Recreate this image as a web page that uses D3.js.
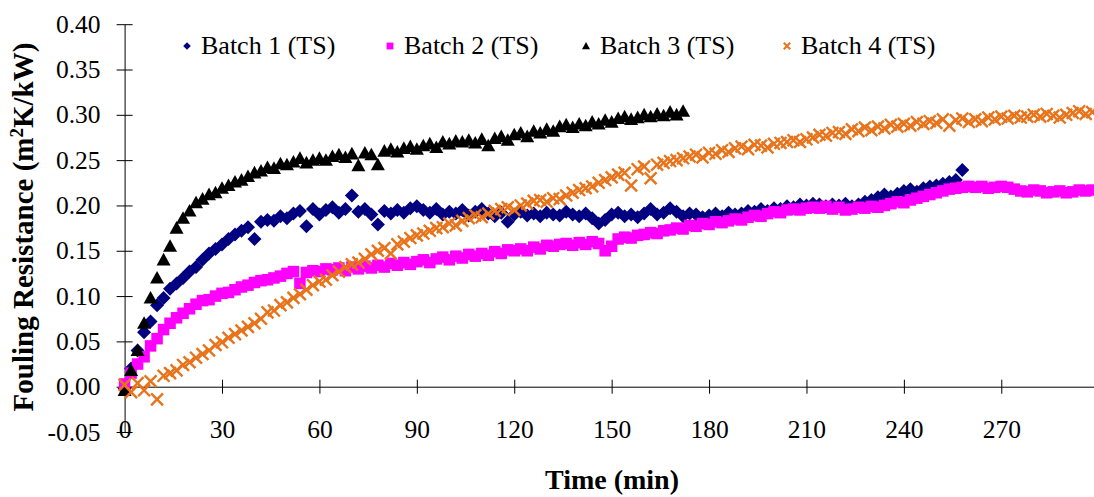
<!DOCTYPE html>
<html>
<head>
<meta charset="utf-8">
<script src="https://cdn.jsdelivr.net/npm/d3@7"></script>
<style>
html,body{margin:0;padding:0;background:#fff;}
svg{display:block;font-family:"Liberation Serif","Times New Roman",serif;}
</style>
</head>
<body>
<svg id="chart" width="1094" height="497"></svg>
<script>
// ---- Data ----
const seriesNames = ["Batch 1 (TS)", "Batch 2 (TS)", "Batch 3 (TS)", "Batch 4 (TS)"];
const sampleStep = 2; // minutes between readings
const xTicks = [0, 30, 60, 90, 120, 150, 180, 210, 240, 270];
const yTicks = [-0.05, 0, 0.05, 0.10, 0.15, 0.20, 0.25, 0.30, 0.35, 0.40];

const batch1 = [
-0.002,0.020,0.040,0.060,0.072,0.090,0.098,0.108,0.114,0.120,
0.127,0.132,0.140,0.147,0.152,0.157,0.163,0.168,0.172,0.176,
0.163,0.182,0.184,0.183,0.188,0.186,0.191,0.194,0.177,0.196,
0.190,0.195,0.198,0.192,0.196,0.211,0.193,0.196,0.190,0.179,
0.194,0.191,0.195,0.192,0.197,0.199,0.195,0.192,0.196,0.190,
0.193,0.191,0.195,0.189,0.193,0.196,0.191,0.188,0.192,0.182,
0.190,0.193,0.189,0.191,0.188,0.192,0.190,0.189,0.193,0.190,
0.188,0.191,0.186,0.180,0.184,0.190,0.192,0.188,0.190,0.187,
0.191,0.196,0.190,0.192,0.197,0.193,0.188,0.191,0.190,0.187,
0.189,0.191,0.188,0.192,0.190,0.191,0.194,0.193,0.196,0.194,
0.197,0.196,0.199,0.198,0.201,0.200,0.202,0.201,0.199,0.201,
0.200,0.202,0.199,0.201,0.204,0.206,0.209,0.212,0.210,0.213,
0.216,0.218,0.215,0.219,0.221,0.222,0.224,0.226,0.228,0.239];

const batch2 = [
0.003,0.015,0.025,0.033,0.045,0.053,0.063,0.070,0.076,0.081,
0.086,0.091,0.095,0.096,0.100,0.103,0.104,0.107,0.110,0.112,
0.115,0.117,0.118,0.120,0.122,0.125,0.127,0.114,0.126,0.128,
0.127,0.130,0.129,0.131,0.128,0.132,0.130,0.133,0.131,0.134,
0.132,0.136,0.134,0.137,0.135,0.138,0.140,0.137,0.141,0.143,
0.140,0.144,0.142,0.146,0.144,0.147,0.145,0.149,0.147,0.151,
0.150,0.152,0.150,0.154,0.152,0.156,0.155,0.157,0.158,0.156,
0.159,0.157,0.160,0.158,0.150,0.155,0.163,0.165,0.164,0.167,
0.168,0.170,0.169,0.172,0.173,0.175,0.174,0.178,0.177,0.180,
0.179,0.182,0.181,0.183,0.185,0.184,0.187,0.189,0.188,0.191,
0.193,0.192,0.195,0.196,0.195,0.197,0.198,0.197,0.199,0.196,
0.198,0.195,0.196,0.198,0.197,0.199,0.198,0.200,0.202,0.204,
0.203,0.206,0.208,0.210,0.212,0.214,0.216,0.218,0.219,0.220,
0.221,0.220,0.221,0.219,0.220,0.221,0.220,0.218,0.216,0.215,
0.217,0.216,0.214,0.215,0.216,0.214,0.215,0.217,0.216,0.217];

const batch3 = [
-0.004,0.018,0.040,0.070,0.098,0.120,0.140,0.155,0.175,0.186,
0.194,0.203,0.207,0.212,0.214,0.219,0.222,0.226,0.228,0.232,
0.236,0.238,0.242,0.241,0.246,0.245,0.248,0.252,0.247,0.250,
0.252,0.250,0.254,0.256,0.253,0.257,0.244,0.258,0.256,0.245,
0.260,0.262,0.259,0.263,0.265,0.262,0.266,0.268,0.264,0.270,
0.268,0.271,0.270,0.272,0.269,0.273,0.266,0.274,0.276,0.272,
0.278,0.280,0.276,0.282,0.280,0.284,0.282,0.287,0.289,0.286,
0.290,0.288,0.292,0.290,0.294,0.292,0.296,0.298,0.295,0.297,
0.300,0.298,0.301,0.299,0.303,0.300,0.304];

const batch4 = [
0.002,-0.006,0.004,-0.004,0.006,-0.014,0.012,0.015,0.018,0.024,
0.027,0.032,0.036,0.040,0.046,0.049,0.054,0.058,0.062,0.066,
0.070,0.075,0.082,0.084,0.090,0.093,0.098,0.102,0.107,0.112,
0.116,0.118,0.123,0.127,0.132,0.135,0.137,0.141,0.146,0.150,
0.153,0.147,0.157,0.160,0.164,0.167,0.169,0.172,0.175,0.176,
0.180,0.178,0.183,0.186,0.189,0.187,0.191,0.194,0.196,0.198,
0.195,0.200,0.202,0.205,0.206,0.204,0.208,0.207,0.211,0.214,
0.217,0.219,0.221,0.225,0.228,0.231,0.234,0.236,0.222,0.240,
0.243,0.230,0.245,0.247,0.249,0.250,0.252,0.254,0.256,0.253,
0.258,0.257,0.261,0.259,0.263,0.265,0.262,0.267,0.266,0.264,
0.268,0.269,0.270,0.272,0.270,0.273,0.275,0.278,0.277,0.280,
0.281,0.279,0.284,0.282,0.286,0.283,0.287,0.285,0.289,0.287,
0.290,0.288,0.292,0.290,0.293,0.291,0.295,0.288,0.294,0.296,
0.292,0.295,0.293,0.297,0.295,0.298,0.296,0.299,0.297,0.298,
0.300,0.298,0.301,0.299,0.297,0.300,0.302,0.304,0.301,0.303];

// ---- Chart ----
const svg = d3.select("#chart");
const FONT = '"Liberation Serif","Times New Roman",serif';

const x = d3.scaleLinear().domain([0, 300]).range([124.6, 124.6 + 300 * 3.247]);
const y = d3.scaleLinear().domain([-0.05, 0.40]).range([432, 24.2]);

const colors = ["#000080", "#FF00FF", "#000000", "#E8731A"];
const values = [batch1, batch2, batch3, batch4];

// Y axis
const yAxis = d3.axisLeft(y).tickValues(yTicks).tickSizeInner(8).tickSizeOuter(0)
  .tickFormat(d => d3.format(".2f")(d).replace("\u2212", "-"));
const gy = svg.append("g").attr("transform", `translate(${x(0)},0)`).call(yAxis);
gy.select(".domain").attr("stroke", "#000").attr("stroke-width", 1);
gy.selectAll(".tick line").attr("x2", 8).attr("x1", -8).attr("stroke", "#000");
gy.selectAll(".tick text").attr("x", -24).attr("font-size", "25.5px")
  .attr("font-family", FONT).attr("fill", "#000");

// X axis at y = 0
const xAxis = d3.axisBottom(x).tickValues(xTicks).tickSizeOuter(0).tickFormat(d3.format("d"));
const gx = svg.append("g").attr("transform", `translate(0,${y(0)})`).call(xAxis);
gx.select(".domain").attr("stroke", "#000").attr("stroke-width", 1);
gx.selectAll(".tick line").attr("y1", -7).attr("y2", 7).attr("stroke", "#000");
gx.selectAll(".tick text").attr("y", y(-0.05) - y(0) - 12).attr("dy", "0.71em")
  .attr("font-size", "25.5px").attr("font-family", FONT).attr("fill", "#000");

// markers
function drawMarker(sel, i, s, sw) {
  if (i === 0) {
    sel.append("path").attr("d", `M0,${-s}L${s},0L0,${s}L${-s},0Z`).attr("fill", colors[0]);
  } else if (i === 1) {
    sel.append("rect").attr("x", -s * 0.9).attr("y", -s * 0.9).attr("width", s * 1.8).attr("height", s * 1.8).attr("fill", colors[1]);
  } else if (i === 2) {
    sel.append("path").attr("d", `M0,${-s}L${s},${s * 0.8}L${-s},${s * 0.8}Z`).attr("fill", colors[2]);
  } else {
    sel.append("path").attr("d", `M${-s * 0.9},${-s * 0.9}L${s * 0.9},${s * 0.9}M${-s * 0.9},${s * 0.9}L${s * 0.9},${-s * 0.9}`)
      .attr("stroke", colors[3]).attr("stroke-width", sw || 2).attr("fill", "none");
  }
}

const sizes = [7, 6.4, 7, 6.6];
values.forEach((vals, i) => {
  const g = svg.append("g");
  vals.forEach((v, k) => {
    const t = k * sampleStep;
    const m = g.append("g").attr("transform", `translate(${x(t)},${y(v)})`);
    drawMarker(m, i, sizes[i], 2.4);
  });
});

// Legend
const legendX = [187, 390, 586, 787];
const legendSizes = [3.8, 3.8, 4, 3.6];
seriesNames.forEach((name, i) => {
  const g = svg.append("g").attr("transform", `translate(${legendX[i]},46)`);
  drawMarker(g, i, legendSizes[i], 2);
  g.append("text").attr("x", 14).attr("y", 8).attr("font-size", "26px")
    .attr("font-family", FONT).attr("fill", "#000").text(name);
});

// Axis titles
svg.append("text").attr("x", 612).attr("y", 489).attr("text-anchor", "middle")
  .attr("font-size", "28px").attr("font-weight", "bold").attr("font-family", FONT).text("Time (min)");

const yt = svg.append("text").attr("transform", "translate(33,227) rotate(-90)")
  .attr("text-anchor", "middle").attr("font-size", "29px").attr("font-weight", "bold")
  .attr("font-family", FONT);
yt.append("tspan").text("Fouling Resistance (m");
yt.append("tspan").attr("font-size", "19px").attr("dy", -10).text("2");
yt.append("tspan").attr("dy", 10).text("K/kW)");
</script>
</body>
</html>
